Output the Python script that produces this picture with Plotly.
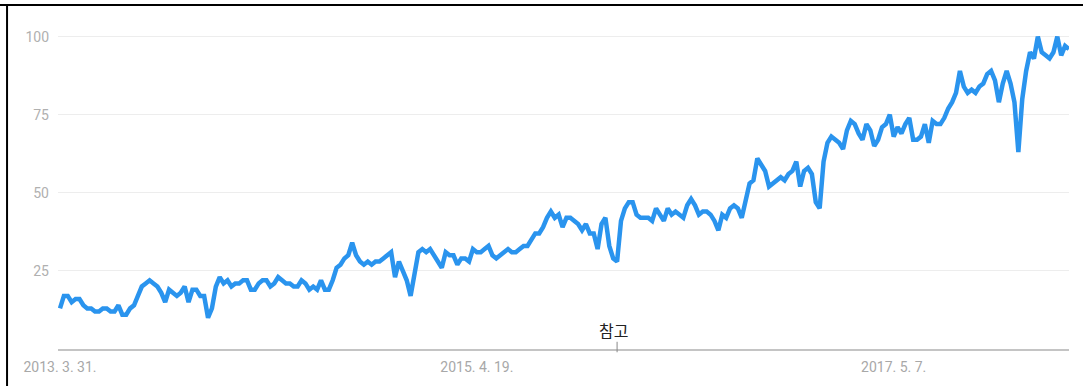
import pandas as pd
import plotly.graph_objects as go

start_date = "2013-03-31"
values = [
    13, 17, 17, 15, 16, 16, 14, 13, 13, 12, 12, 13, 13, 12, 12, 14, 11, 11, 13, 14,
    17, 20, 21, 22, 21, 20, 18, 15, 19, 18, 17, 18, 20, 15, 19, 19, 17, 17, 10, 13,
    20, 23, 21, 22, 20, 21, 21, 22, 22, 19, 19, 21, 22, 22, 20, 21, 23, 22, 21, 21,
    20, 20, 22, 21, 19, 20, 19, 22, 19, 19, 22, 26, 27, 29, 30, 34, 30, 28, 27, 28,
    27, 28, 28, 29, 30, 31, 23, 28, 25, 22, 17, 24, 31, 32, 31, 32, 30, 28, 26, 31,
    30, 30, 27, 29, 29, 28, 32, 31, 31, 32, 33, 30, 29, 30, 31, 32, 31, 31, 32, 33,
    33, 35, 37, 37, 39, 42, 44, 42, 43, 39, 42, 42, 41, 40, 38, 40, 37, 37, 32, 40,
    42, 33, 29, 28, 41, 45, 47, 47, 43, 42, 42, 42, 41, 45, 43, 41, 45, 43, 44, 43,
    42, 46, 48, 46, 43, 44, 44, 43, 41, 38, 43, 42, 45, 46, 45, 42, 48, 53, 54, 61,
    59, 57, 52, 53, 54, 55, 54, 56, 57, 60, 52, 57, 58, 56, 47, 45, 60, 66, 68, 67,
    66, 64, 70, 73, 72, 69, 67, 72, 70, 65, 67, 71, 72, 75, 68, 71, 69, 72, 74, 67,
    67, 68, 72, 66, 73, 72, 72, 74, 77, 79, 82, 89, 84, 82, 83, 82, 84, 85, 88, 89,
    86, 79, 85, 89, 85, 79, 63, 80, 89, 95, 93, 100, 95, 94, 93, 95, 100, 94, 97, 96,
]
dates = pd.date_range(start_date, periods=len(values), freq="7D")

tick_dates = ["2013-03-31", "2015-04-19", "2017-05-07"]
tick_labels = ["2013. 3. 31.", "2015. 4. 19.", "2017. 5. 7."]
y_ticks = [25, 50, 75, 100]
note_date = "2015-12-27"
note_text = "참고"

fig = go.Figure()
fig.add_trace(go.Scatter(
    x=dates, y=values, mode="lines",
    line=dict(color="#2a94ee", width=4.5, shape="linear"),
    hoverinfo="skip", showlegend=False,
))

fig.update_layout(
    width=1083, height=386,
    margin=dict(l=58, r=14, t=21, b=37),
    paper_bgcolor="white", plot_bgcolor="white",
    font=dict(family="Roboto, Arial, sans-serif", color="#a8a8a8", size=14),
    xaxis=dict(
        range=["2013-03-27 10:00", dates[-1]],
        tickvals=pd.to_datetime(tick_dates), ticktext=tick_labels,
        showgrid=False, zeroline=False,
        showline=True, linecolor="#c4c4c4", linewidth=1.5,
        ticks="", ticklabelstandoff=4,
        tickfont=dict(size=14, color="#a8a8a8"),
    ),
    yaxis=dict(
        range=[0, 105], tickvals=y_ticks,
        showgrid=True, gridcolor="#ededed", gridwidth=1,
        zeroline=False, showline=False, ticks="",
        ticklabelstandoff=8,
        tickfont=dict(size=14, color="#b0b0b0"),
    ),
    shapes=[
        dict(type="line", xref="paper", yref="paper", x0=-0.06, x1=1.02,
             y0=1.0488, y1=1.0488, line=dict(color="black", width=2)),
        dict(type="line", xref="paper", yref="paper", x0=-0.0504, x1=-0.0504,
             y0=1.0488, y1=-0.12, line=dict(color="black", width=2)),
        dict(type="line", xref="x", yref="paper", x0=note_date, x1=note_date,
             y0=0.022, y1=-0.01, line=dict(color="#888888", width=1)),
    ],
    annotations=[
        dict(x=note_date, y=0.058, xref="x", yref="paper", text=note_text,
             showarrow=False, xanchor="center", yanchor="middle", xshift=-4,
             font=dict(family="Noto Sans CJK KR", size=16, color="#222222")),
    ],
)

fig.write_html("out.html", config={"displayModeBar": False},
               post_script="document.body.style.margin='0';")
